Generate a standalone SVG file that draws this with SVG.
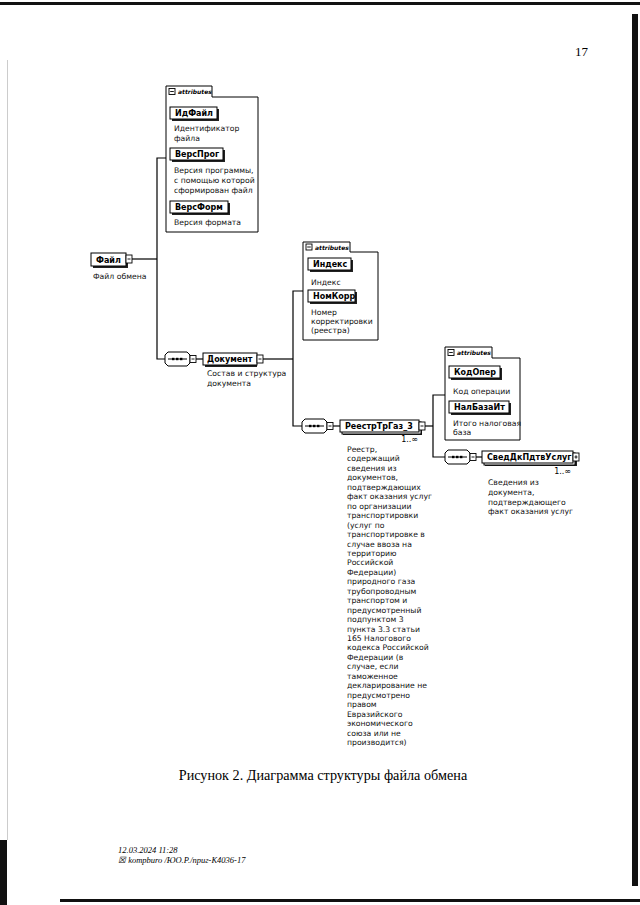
<svg xmlns="http://www.w3.org/2000/svg" width="640" height="905" viewBox="0 0 640 905">
<defs>
<style>
.el{fill:#fff;stroke:#000;stroke-width:1}
.sh{fill:#222}
.lbl{font-family:"DejaVu Sans",Verdana,sans-serif;font-size:8px;font-weight:bold;fill:#000}
.desc{font-family:"DejaVu Sans",Verdana,sans-serif;font-size:7.7px;fill:#111}
.tab{font-family:"DejaVu Sans",Verdana,sans-serif;font-size:6px;font-style:italic;font-weight:bold;fill:#000}
.occ{font-family:"DejaVu Sans",Verdana,sans-serif;font-size:8px;fill:#000}
.ln{fill:none;stroke:#000;stroke-width:1.2}
.box{fill:#fff;stroke:#000;stroke-width:1}
.serif{font-family:"Liberation Serif","Times New Roman",serif;fill:#000}
</style>
<g id="seqsym">
<path d="M3,0 H22 L25,3 V11 L22,14 H3 L0,11 V3 Z" fill="#fff" stroke="#000" stroke-width="1"/>
<line x1="3" y1="7" x2="22" y2="7" stroke="#000" stroke-width="1"/>
<rect x="7" y="5.8" width="2.4" height="2.4" fill="#000"/>
<rect x="11" y="5.8" width="2.4" height="2.4" fill="#000"/>
<rect x="15" y="5.8" width="2.4" height="2.4" fill="#000"/>
<rect x="25" y="3.5" width="6" height="7" fill="#fff" stroke="#000" stroke-width="0.9"/>
<line x1="26.5" y1="7" x2="29.5" y2="7" stroke="#000" stroke-width="0.9"/>
</g>
<g id="minus">
<rect x="0" y="0" width="6" height="8" fill="#fff" stroke="#000" stroke-width="0.9"/>
<line x1="1.5" y1="4" x2="4.5" y2="4" stroke="#000" stroke-width="0.9"/>
</g>
<g id="plus">
<rect x="0" y="0" width="6" height="8" fill="#fff" stroke="#000" stroke-width="0.9"/>
<line x1="1.5" y1="4" x2="4.5" y2="4" stroke="#000" stroke-width="0.9"/>
<line x1="3" y1="2.3" x2="3" y2="5.7" stroke="#000" stroke-width="0.9"/>
</g>
<g id="tabicon">
<rect x="0" y="0" width="6" height="6" fill="#fff" stroke="#000" stroke-width="0.9"/>
<line x1="1.2" y1="3" x2="4.8" y2="3" stroke="#000" stroke-width="0.9"/>
</g>
</defs>

<rect x="0" y="0" width="640" height="905" fill="#fff"/>

<g id="scan-edges">
<rect x="0" y="2" width="640" height="3" fill="#111"/>
<rect x="632" y="14" width="6" height="872" fill="#111"/>
<rect x="0" y="840" width="7" height="65" fill="#111"/>
<rect x="60" y="899" width="580" height="3" fill="#111"/>
<line x1="7.5" y1="60" x2="7.5" y2="840" stroke="#aaa" stroke-width="0.6"/>
</g>

<text class="serif" x="575" y="56" font-size="13">17</text>

<g id="connectors">
<polyline class="ln" points="132,259 157,259"/>
<polyline class="ln" points="166,158 157,158 157,359 165,359"/>
<polyline class="ln" points="196,359 203,359"/>
<polyline class="ln" points="263,359 293,359"/>
<polyline class="ln" points="303,291 293,291 293,426 302,426"/>
<polyline class="ln" points="333,426 340,426"/>
<polyline class="ln" points="425,426 433,426"/>
<polyline class="ln" points="445,395 433,395 433,457 445,457"/>
<polyline class="ln" points="474,457 482,457"/>
</g>

<g id="node-fail">
<rect class="sh" x="93" y="255" width="35" height="13"/>
<rect class="el" x="91" y="253" width="35" height="13"/>
<text class="lbl" x="96" y="262.5">Файл</text>
<use href="#minus" x="126" y="255"/>
<text class="desc" x="93" y="279">Файл обмена</text>
</g>

<g id="attrs-fail">
<path class="box" d="M166,232 V86 H212 V97 H258 V232 Z"/>
<use href="#tabicon" x="169" y="88.5"/>
<text class="tab" x="178" y="94">attributes</text>
<g id="attr-idfail">
<rect class="sh" x="172" y="109" width="47" height="12"/>
<rect class="el" x="170" y="107" width="47" height="12"/>
<text class="lbl" x="175" y="116">ИдФайл</text>
<text class="desc" x="174" y="131">Идентификатор</text>
<text class="desc" x="174" y="141">файла</text>
</g>
<g id="attr-versprog">
<rect class="sh" x="172" y="150" width="53" height="12"/>
<rect class="el" x="170" y="148" width="53" height="12"/>
<text class="lbl" x="175" y="157">ВерсПрог</text>
<text class="desc" x="174" y="173">Версия программы,</text>
<text class="desc" x="174" y="183">с помощью которой</text>
<text class="desc" x="174" y="193">сформирован файл</text>
</g>
<g id="attr-versform">
<rect class="sh" x="172" y="203" width="58" height="12"/>
<rect class="el" x="170" y="201" width="58" height="12"/>
<text class="lbl" x="175" y="210">ВерсФорм</text>
<text class="desc" x="174" y="225">Версия формата</text>
</g>
</g>

<g id="seq-1"><use href="#seqsym" x="165" y="352"/></g>
<g id="node-dokument">
<rect class="sh" x="205" y="355" width="52" height="12"/>
<rect class="el" x="203" y="353" width="54" height="12"/>
<text class="lbl" x="207" y="362">Документ</text>
<use href="#minus" x="257" y="355"/>
<text class="desc" x="207" y="376">Состав и структура</text>
<text class="desc" x="207" y="386">документа</text>
</g>

<g id="attrs-dokument">
<path class="box" d="M303,340 V242 H350 V252 H378 V340 Z"/>
<use href="#tabicon" x="306" y="244"/>
<text class="tab" x="315" y="249.5">attributes</text>
<g id="attr-indeks">
<rect class="sh" x="310" y="260" width="43" height="12"/>
<rect class="el" x="308" y="258" width="43" height="12"/>
<text class="lbl" x="313" y="267">Индекс</text>
<text class="desc" x="311" y="285">Индекс</text>
</g>
<g id="attr-nomkorr">
<rect class="sh" x="310" y="292" width="47" height="12"/>
<rect class="el" x="308" y="290" width="47" height="12"/>
<text class="lbl" x="313" y="299">НомКорр</text>
<text class="desc" x="311" y="315">Номер</text>
<text class="desc" x="311" y="324">корректировки</text>
<text class="desc" x="311" y="333">(реестра)</text>
</g>
</g>

<g id="seq-2"><use href="#seqsym" x="302" y="419"/></g>
<g id="node-reestr">
<rect class="sh" x="343" y="423" width="79" height="12"/>
<rect class="el" x="342" y="422" width="79" height="12"/>
<rect class="el" x="340" y="420" width="79" height="12"/>
<text class="lbl" x="345" y="429">РеестрТрГаз_3</text>
<use href="#minus" x="419" y="422"/>
<text class="occ" x="418" y="442" text-anchor="end">1..∞</text>
<text class="desc" x="347">
<tspan x="347" y="452">Реестр,</tspan>
<tspan x="347" y="461.45">содержащий</tspan>
<tspan x="347" y="470.9">сведения из</tspan>
<tspan x="347" y="480.35">документов,</tspan>
<tspan x="347" y="489.8">подтверждающих</tspan>
<tspan x="347" y="499.25">факт оказания услуг</tspan>
<tspan x="347" y="508.7">по организации</tspan>
<tspan x="347" y="518.15">транспортировки</tspan>
<tspan x="347" y="527.6">(услуг по</tspan>
<tspan x="347" y="537.05">транспортировке в</tspan>
<tspan x="347" y="546.5">случае ввоза на</tspan>
<tspan x="347" y="555.95">территорию</tspan>
<tspan x="347" y="565.4">Российской</tspan>
<tspan x="347" y="574.85">Федерации)</tspan>
<tspan x="347" y="584.3">природного газа</tspan>
<tspan x="347" y="593.75">трубопроводным</tspan>
<tspan x="347" y="603.2">транспортом и</tspan>
<tspan x="347" y="612.65">предусмотренный</tspan>
<tspan x="347" y="622.1">подпунктом 3</tspan>
<tspan x="347" y="631.55">пункта 3.3 статьи</tspan>
<tspan x="347" y="641">165 Налогового</tspan>
<tspan x="347" y="650.45">кодекса Российской</tspan>
<tspan x="347" y="659.9">Федерации (в</tspan>
<tspan x="347" y="669.35">случае, если</tspan>
<tspan x="347" y="678.8">таможенное</tspan>
<tspan x="347" y="688.25">декларирование не</tspan>
<tspan x="347" y="697.7">предусмотрено</tspan>
<tspan x="347" y="707.15">правом</tspan>
<tspan x="347" y="716.6">Евразийского</tspan>
<tspan x="347" y="726.05">экономического</tspan>
<tspan x="347" y="735.5">союза или не</tspan>
<tspan x="347" y="744.95">производится)</tspan>
</text>
</g>

<g id="attrs-reestr">
<path class="box" d="M445,440 V347 H492 V358 H520 V440 Z"/>
<use href="#tabicon" x="448" y="349.5"/>
<text class="tab" x="457" y="355">attributes</text>
<g id="attr-kodoper">
<rect class="sh" x="451" y="368" width="51" height="12"/>
<rect class="el" x="449" y="366" width="51" height="12"/>
<text class="lbl" x="454" y="375">КодОпер</text>
<text class="desc" x="453" y="394">Код операции</text>
</g>
<g id="attr-nalbazait">
<rect class="sh" x="451" y="403" width="60" height="12"/>
<rect class="el" x="449" y="401" width="60" height="12"/>
<text class="lbl" x="454" y="410">НалБазаИт</text>
<text class="desc" x="453" y="426">Итого налоговая</text>
<text class="desc" x="453" y="435">база</text>
</g>
</g>

<g id="seq-3"><use href="#seqsym" x="445" y="450"/></g>
<g id="node-sved">
<rect class="sh" x="485" y="454" width="92" height="12"/>
<rect class="el" x="484" y="453" width="91" height="12"/>
<rect class="el" x="482" y="451" width="91" height="12"/>
<text class="lbl" x="487" y="460">СведДкПдтвУслуг</text>
<use href="#plus" x="573" y="453"/>
<text class="occ" x="571" y="474" text-anchor="end">1..∞</text>
<text class="desc" x="488" y="485">Сведения из</text>
<text class="desc" x="488" y="495">документа,</text>
<text class="desc" x="488" y="505">подтверждающего</text>
<text class="desc" x="488" y="514">факт оказания услуг</text>
</g>

<text class="serif" x="323" y="780" font-size="14.2" text-anchor="middle">Рисунок 2. Диаграмма структуры файла обмена</text>

<text class="serif" x="118" y="853" font-size="8.5" font-style="italic">12.03.2024 11:28</text>
<text class="serif" x="118" y="863" font-size="8.5" font-style="italic">☒ kompburo /ЮО.Р./приг-К4036-17</text>
</svg>
